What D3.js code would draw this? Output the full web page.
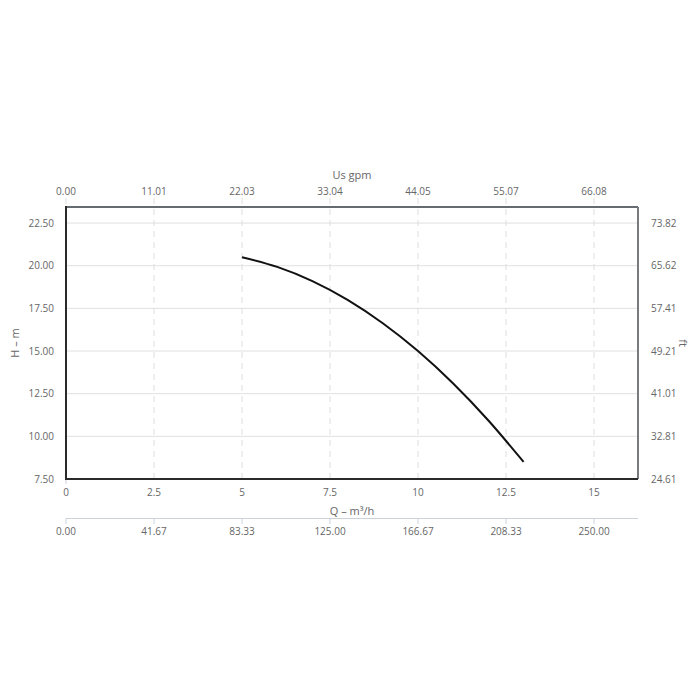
<!DOCTYPE html>
<html><head><meta charset="utf-8">
<script src="https://cdn.jsdelivr.net/npm/d3@7"></script>
<style>body{margin:0;background:#fff;} text{font-family:"Open Sans",sans-serif;}</style>
</head><body>
<svg id="c" width="700" height="700"></svg>
<script>
const flowQ = [5, 6, 7, 8, 9, 10, 11, 12, 13];
const headH = [20.5, 19.93, 19.1, 18.0, 16.63, 15.0, 13.1, 10.93, 8.5];
const qTicks = [0, 2.5, 5, 7.5, 10, 12.5, 15];
const gpmLabels = ["0.00","11.01","22.03","33.04","44.05","55.07","66.08"];
const lminLabels = ["0.00","41.67","83.33","125.00","166.67","208.33","250.00"];
const hTicks = [7.5, 10, 12.5, 15, 17.5, 20, 22.5];
const ftLabels = ["24.61","32.81","41.01","49.21","57.41","65.62","73.82"];

const L=66,R=638,T=207,B=479;
const x=d3.scaleLinear().domain([0,16.25]).range([L,R]);
const y=d3.scaleLinear().domain([7.5,23.44]).range([B,T]);
const svg=d3.select("#c");
const tc="#666";

// horizontal grid
svg.append("g").selectAll("line").data(hTicks).join("line")
 .attr("x1",L).attr("x2",R).attr("y1",d=>y(d)).attr("y2",d=>y(d))
 .attr("stroke","#e0e0e0").attr("stroke-width",1);
// vertical dashed grid
svg.append("g").selectAll("line").data(qTicks).join("line")
 .attr("x1",d=>x(d)).attr("x2",d=>x(d)).attr("y1",T-9).attr("y2",B)
 .attr("stroke","#dedede").attr("stroke-width",1).attr("stroke-dasharray","6,5");
// small tick below plot at origin
svg.append("line").attr("x1",L).attr("x2",L).attr("y1",B).attr("y2",B+5).attr("stroke","#ccd2da");

// frame
svg.append("line").attr("x1",L).attr("x2",R).attr("y1",T).attr("y2",T).attr("stroke","#666b72").attr("stroke-width",2);
svg.append("line").attr("x1",R).attr("x2",R).attr("y1",T).attr("y2",B).attr("stroke","#777b80").attr("stroke-width",2);
svg.append("line").attr("x1",L).attr("x2",L).attr("y1",T-1).attr("y2",B+1).attr("stroke","#2a2a2a").attr("stroke-width",2);
svg.append("line").attr("x1",L).attr("x2",R).attr("y1",B).attr("y2",B).attr("stroke","#2a2a2a").attr("stroke-width",2);

// curve
svg.append("path").datum(flowQ.map((q,i)=>[q,headH[i]]))
 .attr("d",d3.line().x(d=>x(d[0])).y(d=>y(d[1])).curve(d3.curveMonotoneX))
 .attr("fill","none").attr("stroke","#111").attr("stroke-width",2);

const fs="10px";
// top gpm labels
svg.append("g").selectAll("text").data(qTicks).join("text")
 .attr("x",d=>x(d)).attr("y",195).attr("text-anchor","middle").attr("font-size",fs).attr("fill",tc)
 .text((d,i)=>gpmLabels[i]);
svg.append("text").attr("x",352).attr("y",179).attr("text-anchor","middle").attr("font-size","11px").attr("fill",tc).text("Us gpm");

// bottom Q labels
svg.append("g").selectAll("text").data(qTicks).join("text")
 .attr("x",d=>x(d)).attr("y",496).attr("text-anchor","middle").attr("font-size",fs).attr("fill",tc)
 .text(d=>d3.format("")(d));
svg.append("text").attr("x",352).attr("y",515).attr("text-anchor","middle").attr("font-size","11px").attr("fill",tc).text("Q – m³/h");

// second bottom axis
svg.append("line").attr("x1",L).attr("x2",R).attr("y1",518.5).attr("y2",518.5).attr("stroke","#ccd2da").attr("stroke-width",1);
svg.append("g").selectAll("line").data(qTicks).join("line")
 .attr("x1",d=>x(d)).attr("x2",d=>x(d)).attr("y1",518).attr("y2",524)
 .attr("stroke","#ccd2da").attr("stroke-width",1);
svg.append("g").selectAll("text").data(qTicks).join("text")
 .attr("x",d=>x(d)).attr("y",535).attr("text-anchor","middle").attr("font-size",fs).attr("fill",tc)
 .text((d,i)=>lminLabels[i]);

// left axis
svg.append("g").selectAll("text").data(hTicks).join("text")
 .attr("x",54).attr("y",d=>y(d)+3.5).attr("text-anchor","end").attr("font-size",fs).attr("fill",tc)
 .text(d=>d3.format(".2f")(d));
svg.append("text").attr("transform","translate(19,343) rotate(-90)").attr("text-anchor","middle").attr("font-size","11px").attr("fill",tc).text("H – m");

// right axis
svg.append("g").selectAll("text").data(hTicks).join("text")
 .attr("x",651).attr("y",d=>y(d)+3.5).attr("text-anchor","start").attr("font-size",fs).attr("fill",tc)
 .text((d,i)=>ftLabels[i]);
svg.append("text").attr("transform","translate(679,343) rotate(90)").attr("text-anchor","middle").attr("font-size","11px").attr("fill",tc).text("ft");
</script>
</body></html>
